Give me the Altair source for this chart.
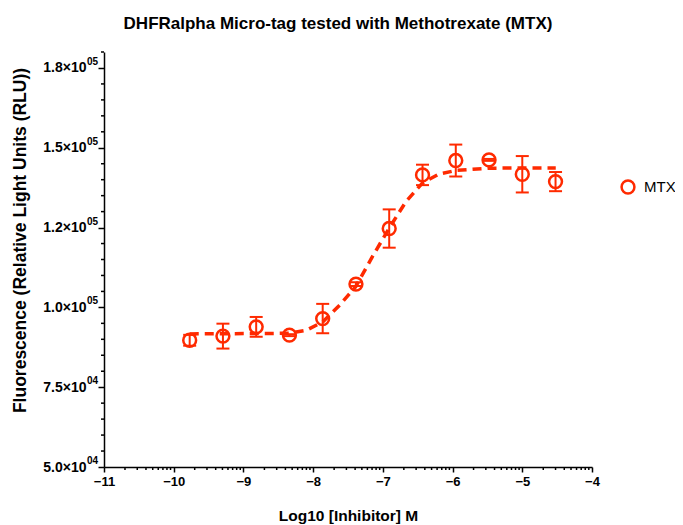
import altair as alt
import pandas as pd
import numpy as np

# ---- data ----
log_conc = [-9.771, -9.294, -8.817, -8.340, -7.863, -7.386,
            -6.909, -6.431, -5.954, -5.477, -5.000, -4.523]
mean_rlu = [89700, 91000, 93900, 91300, 96500, 107300,
            124700, 141500, 146000, 146200, 141700, 139400]
err_rlu = [1700, 3900, 3100, 300, 4600, 600,
           6000, 3200, 5000, 300, 5700, 3000]

curve_x = [-9.77, -9.3, -8.8, -8.34, -8.1, -7.86, -7.62, -7.39, -7.15,
           -6.91, -6.67, -6.43, -6.19, -5.95, -5.48, -5.0, -4.52]
curve_y = [91700, 91750, 91800, 91900, 92800, 95500, 100700, 106500, 115900,
           124800, 133100, 139000, 141800, 142900, 143600, 143700, 143700]

series_name = "MTX"
y_ticks = [50000, 75000, 100000, 125000, 150000, 175000]
y_tick_labels = ["5.0×10", "7.5×10", "1.0×10", "1.2×10", "1.5×10", "1.8×10"]
y_tick_exps = ["04", "04", "05", "05", "05", "05"]
y_minor = [v for v in range(55000, 180001, 5000) if v not in y_ticks]
x_ticks = [-11, -10, -9, -8, -7, -6, -5, -4]
x_minor = [d + np.log10(k) for d in range(-11, -4) for k in range(2, 10)]

RED = "#ff2a00"
FONT = "Liberation Sans"
W, H = 488, 415

pts = pd.DataFrame({"x": log_conc, "y": mean_rlu, "series": series_name,
                    "lo": [m - e for m, e in zip(mean_rlu, err_rlu)],
                    "hi": [m + e for m, e in zip(mean_rlu, err_rlu)]})
crv = pd.DataFrame({"x": curve_x, "y": curve_y})

xs = alt.Scale(domain=[-11, -4], nice=False, zero=False)
ys = alt.Scale(domain=[50000, 180000], nice=False, zero=False)

label_expr = ("[" + ",".join("'%s'" % s for s in y_tick_labels) + "][indexof(["
              + ",".join(str(v) for v in y_ticks) + "], datum.value)]")

x_axis = alt.Axis(values=x_ticks, format="d", title="Log10 [Inhibitor] M", grid=False,
                  domainColor="black", domainWidth=1.5, tickColor="black",
                  tickWidth=1.5, tickSize=5, labelFont=FONT, labelFontSize=13,
                  labelFontWeight="bold", labelColor="black", labelPadding=3,
                  titleFont=FONT, titleFontSize=15.5, titleFontWeight="bold",
                  titleColor="black", titlePadding=20, labelFlush=False)
y_axis = alt.Axis(values=y_ticks, labelExpr=label_expr,
                  title="Fluorescence (Relative Light Units (RLU))", grid=False,
                  domainColor="black", domainWidth=1.5, tickColor="black",
                  tickWidth=1.5, tickSize=6, labelFont=FONT, labelFontSize=14,
                  labelFontWeight="bold", labelColor="black", labelPadding=12,
                  titleFont=FONT, titleFontSize=17.5, titleFontWeight="bold",
                  titleColor="black", titlePadding=13, titleY=188, labelFlush=False)

base = alt.Chart(pts)

curve = alt.Chart(crv).mark_line(strokeDash=[9, 6], strokeWidth=3.5, color=RED).encode(
    x=alt.X("x:Q", scale=xs, axis=x_axis),
    y=alt.Y("y:Q", scale=ys, axis=y_axis),
)

err = base.mark_rule(color=RED, strokeWidth=2).encode(
    x=alt.X("x:Q", scale=xs), y=alt.Y("lo:Q", scale=ys), y2="hi:Q")
cap_lo = base.mark_tick(color=RED, orient="horizontal", size=13, thickness=2, opacity=1).encode(
    x=alt.X("x:Q", scale=xs), y=alt.Y("lo:Q", scale=ys))
cap_hi = base.mark_tick(color=RED, orient="horizontal", size=13, thickness=2, opacity=1).encode(
    x=alt.X("x:Q", scale=xs), y=alt.Y("hi:Q", scale=ys))

points = base.mark_point(shape="circle", filled=False, size=165, strokeWidth=2.5,
                         opacity=1).encode(
    x=alt.X("x:Q", scale=xs),
    y=alt.Y("y:Q", scale=ys),
    color=alt.Color("series:N",
                    scale=alt.Scale(domain=[series_name], range=[RED]),
                    legend=alt.Legend(title=None, orient="none", legendX=516, legendY=127,
                                      symbolType="circle", symbolSize=165,
                                      symbolStrokeWidth=2.5, symbolFillColor="transparent",
                                      symbolOpacity=1,
                                      labelFont=FONT, labelFontSize=15, labelColor="black",
                                      labelOffset=8)),
)

ymin_df = pd.DataFrame({"v": y_minor})
ymin = alt.Chart(ymin_df).mark_rule(color="black", strokeWidth=1.5).encode(
    y=alt.Y("v:Q", scale=ys), x=alt.value(-3), x2=alt.value(0))
xmin_df = pd.DataFrame({"v": x_minor})
xmin = alt.Chart(xmin_df).mark_rule(color="black", strokeWidth=1.5).encode(
    x=alt.X("v:Q", scale=xs), y=alt.value(H), y2=alt.value(H + 3))

exp_df = pd.DataFrame({"v": y_ticks, "e": y_tick_exps})
exps = alt.Chart(exp_df).mark_text(align="left", baseline="middle", dy=-6, font=FONT,
                                   fontSize=10, fontWeight="bold", color="black").encode(
    y=alt.Y("v:Q", scale=ys), x=alt.value(-17), text="e:N")

chart = alt.layer(curve, err, cap_lo, cap_hi, points, ymin, xmin, exps).properties(
    width=W, height=H,
    title=alt.TitleParams("DHFRalpha Micro-tag tested with Methotrexate (MTX)",
                          font=FONT, fontSize=17, fontWeight="bold", color="black",
                          anchor="middle", dx=-10, offset=18),
    padding={"left": 96, "top": 44, "right": 83, "bottom": 58},
    autosize=alt.AutoSizeParams(type="none"),
).configure_view(stroke=None)

chart.save("out.html", embed_options={"renderer": "svg", "actions": False})
